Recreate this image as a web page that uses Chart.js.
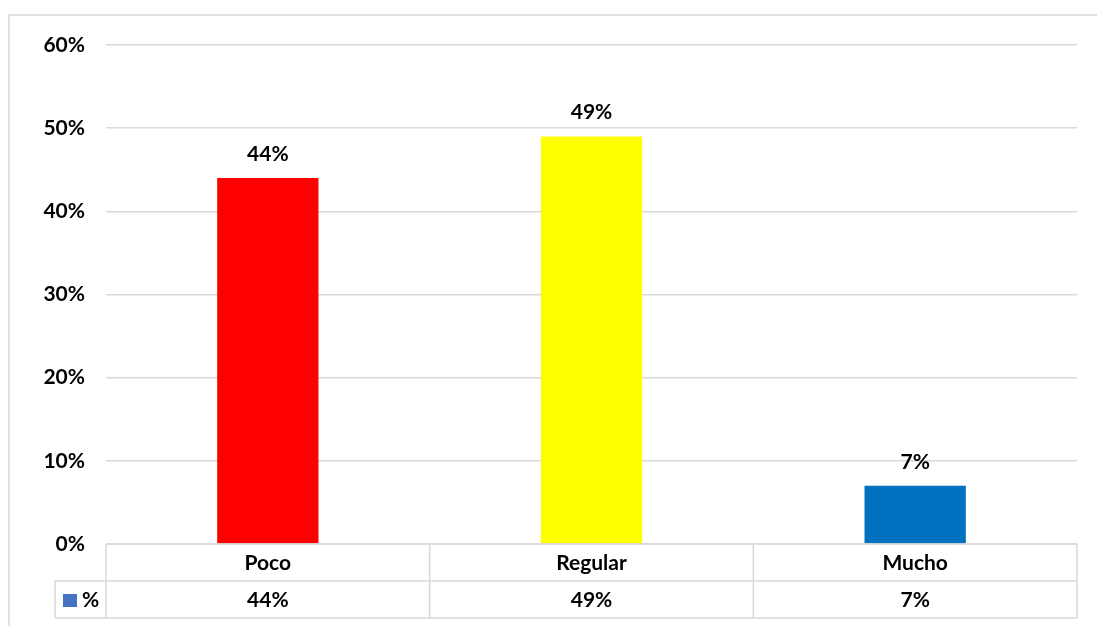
<!DOCTYPE html>
<html>
<head>
<meta charset="utf-8">
<script src="https://cdn.jsdelivr.net/npm/chart.js@4"></script>
<style>
  body { margin: 0; background: #fff; }
  #wrap { width: 1097px; height: 626px; }
</style>
</head>
<body>
<div id="wrap"><canvas id="chart"></canvas></div>
<script>
// Data
let categories = ["Poco", "Regular", "Mucho"];
let values = [44, 49, 7];
let barColors = ["#FF0000", "#FFFF00", "#0070C0"];
let seriesName = "%";
let yTicks = [0, 10, 20, 30, 40, 50, 60];

let fontFamily = "Lato, 'Open Sans', sans-serif";
let fontSize = 21;
let gridColor = "#d9d9d9";

// Outer frame + data table under the plot
let tablePlugin = {
  id: "tablePlugin",
  beforeDraw(chart) {
    let ctx = chart.ctx;
    ctx.save();
    ctx.strokeStyle = gridColor;
    ctx.lineWidth = 1.5;
    ctx.beginPath();
    ctx.moveTo(9, chart.height);
    ctx.lineTo(9, 15);
    ctx.lineTo(chart.width, 15);
    ctx.stroke();
    ctx.restore();
  },
  afterDraw(chart) {
    let ctx = chart.ctx;
    let area = chart.chartArea;
    let x = chart.scales.x;
    let rowH = 37;
    let top = area.bottom;
    let legendLeft = 55;

    // column boundaries from the category scale
    let bounds = [area.left];
    for (let i = 0; i < categories.length; i++) {
      let c = x.getPixelForValue(i);
      let half = (x.getPixelForValue(1) - x.getPixelForValue(0)) / 2;
      bounds.push(c + half);
    }

    ctx.save();
    ctx.strokeStyle = gridColor;
    ctx.lineWidth = 1.5;
    ctx.beginPath();
    ctx.moveTo(area.left, top);
    ctx.lineTo(area.right, top);
    ctx.moveTo(legendLeft, top + rowH);
    ctx.lineTo(area.right, top + rowH);
    ctx.moveTo(legendLeft, top + rowH * 2);
    ctx.lineTo(area.right, top + rowH * 2);
    ctx.moveTo(legendLeft, top + rowH);
    ctx.lineTo(legendLeft, top + rowH * 2);
    bounds.forEach((b) => {
      ctx.moveTo(b, top);
      ctx.lineTo(b, top + rowH * 2);
    });
    ctx.stroke();

    ctx.fillStyle = "#000";
    ctx.font = "bold " + fontSize + "px " + fontFamily;
    ctx.textAlign = "center";
    ctx.textBaseline = "middle";
    categories.forEach((cat, i) => {
      let cx = x.getPixelForValue(i);
      ctx.fillText(cat, cx, top + rowH / 2 + 1);
      ctx.fillText(values[i] + "%", cx, top + rowH * 1.5 + 1);
    });

    // legend key
    ctx.fillStyle = "#4472C4";
    ctx.fillRect(63, top + rowH + 13, 14, 13);
    ctx.fillStyle = "#000";
    ctx.textAlign = "left";
    ctx.fillText(seriesName, 82, top + rowH * 1.5 + 1);

    // value labels above the bars
    ctx.textAlign = "center";
    let meta = chart.getDatasetMeta(0);
    meta.data.forEach((bar, i) => {
      ctx.fillText(values[i] + "%", bar.x, bar.y - 24);
    });
    ctx.restore();
  },
};

new Chart(document.getElementById("chart"), {
  type: "bar",
  data: {
    labels: categories,
    datasets: [
      {
        label: seriesName,
        data: values,
        backgroundColor: barColors,
        borderWidth: 0,
        categoryPercentage: 1,
        barPercentage: 0.313,
      },
    ],
  },
  options: {
    responsive: true,
    maintainAspectRatio: false,
    animation: false,
    layout: { padding: { top: 45, right: 20, bottom: 82, left: 0 } },
    plugins: {
      legend: { display: false },
      tooltip: { enabled: false },
    },
    scales: {
      x: { display: false },
      y: {
        min: 0,
        max: 60,
        afterBuildTicks(scale) {
          scale.ticks = yTicks.map((v) => ({ value: v }));
        },
        afterFit(scale) {
          scale.width = 106;
        },
        border: { display: false },
        grid: { color: gridColor, lineWidth: 1.5, drawTicks: false },
        ticks: {
          padding: 21,
          color: "#000",
          font: { family: fontFamily, size: fontSize, weight: "bold" },
          callback: (v) => v + "%",
        },
      },
    },
  },
  plugins: [tablePlugin],
});
</script>
</body>
</html>
